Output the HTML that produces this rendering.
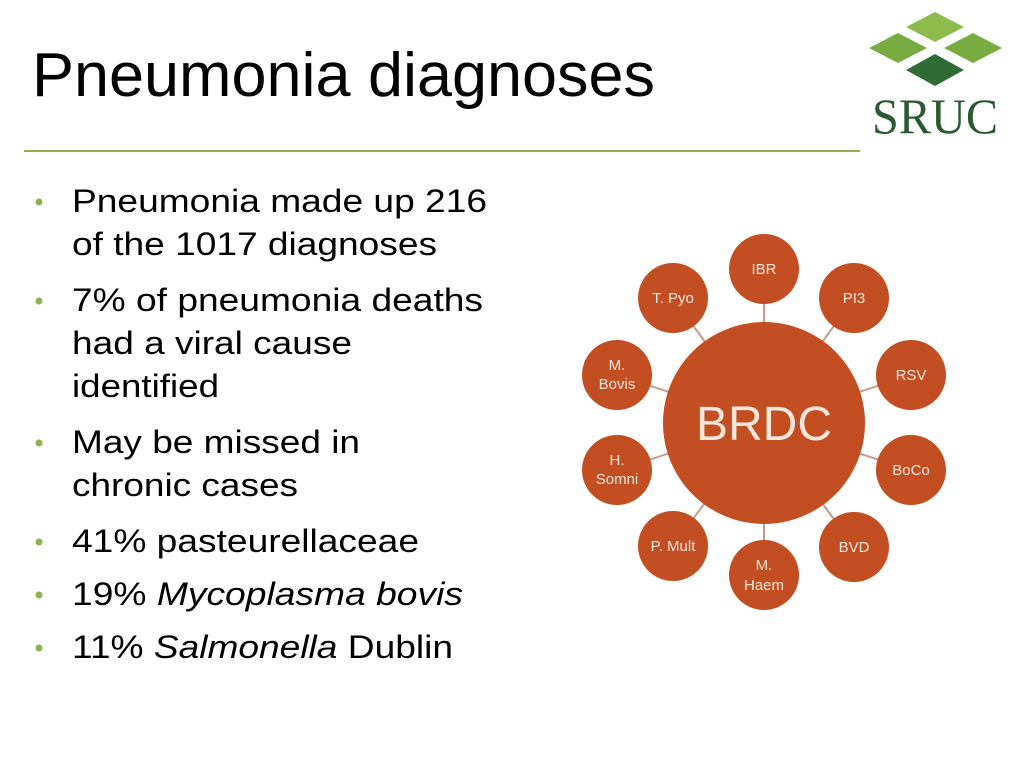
<!DOCTYPE html>
<html><head><meta charset="utf-8"><style>
html,body{margin:0;padding:0;background:#fff;}
svg{display:block;}
</style></head><body>
<svg width="1024" height="760" viewBox="0 0 1024 760" xmlns="http://www.w3.org/2000/svg">
<rect width="1024" height="760" fill="#fff"/>
<text x="32" y="96" font-family="Liberation Sans, sans-serif" font-size="62" fill="#000" textLength="623" lengthAdjust="spacingAndGlyphs">Pneumonia diagnoses</text>
<line x1="24" y1="151" x2="860" y2="151" stroke="#8db34e" stroke-width="2"/>
<!-- logo -->
<polygon points="935,12 964,27 935,42 906,27" fill="#8dbb4c"/>
<polygon points="898,33 927,48 898,63 869,48" fill="#78ac40"/>
<polygon points="973,33 1002,48 973,63 944,48" fill="#78ac40"/>
<polygon points="935,54 964,70 935,86 906,70" fill="#2f6b34"/>
<text x="935" y="133" text-anchor="middle" font-family="Liberation Serif, serif" font-size="50" fill="#2c5a30" textLength="126" lengthAdjust="spacingAndGlyphs">SRUC</text>
<!-- bullets -->
<g font-family="Liberation Sans, sans-serif" font-size="32" fill="#000" lengthAdjust="spacingAndGlyphs">
<g fill="#8db34e">
<circle cx="39" cy="202" r="3.5"/><circle cx="39" cy="301" r="3.5"/><circle cx="39" cy="443" r="3.5"/>
<circle cx="39" cy="542" r="3.5"/><circle cx="39" cy="595" r="3.5"/><circle cx="39" cy="648" r="3.5"/>
</g>
<text x="72" y="212" textLength="415" lengthAdjust="spacingAndGlyphs">Pneumonia made up 216</text>
<text x="72" y="255" textLength="365" lengthAdjust="spacingAndGlyphs">of the 1017 diagnoses</text>
<text x="72" y="311" textLength="411" lengthAdjust="spacingAndGlyphs">7% of pneumonia deaths</text>
<text x="72" y="354" textLength="280" lengthAdjust="spacingAndGlyphs">had a viral cause</text>
<text x="72" y="397" textLength="147" lengthAdjust="spacingAndGlyphs">identified</text>
<text x="72" y="453" textLength="288" lengthAdjust="spacingAndGlyphs">May be missed in</text>
<text x="72" y="496" textLength="226" lengthAdjust="spacingAndGlyphs">chronic cases</text>
<text x="72" y="552" textLength="347" lengthAdjust="spacingAndGlyphs">41% pasteurellaceae</text>
<text x="72" y="605" textLength="391" lengthAdjust="spacingAndGlyphs">19% <tspan font-style="italic">Mycoplasma bovis</tspan></text>
<text x="72" y="658" textLength="381" lengthAdjust="spacingAndGlyphs">11% <tspan font-style="italic">Salmonella</tspan> Dublin</text>
</g>
<!-- diagram -->
<g stroke="#c99a86" stroke-width="2">
<line x1="764" y1="423" x2="764" y2="269"/>
<line x1="764" y1="423" x2="854" y2="298"/>
<line x1="764" y1="423" x2="911" y2="375"/>
<line x1="764" y1="423" x2="911" y2="470"/>
<line x1="764" y1="423" x2="854" y2="547"/>
<line x1="764" y1="423" x2="764" y2="575"/>
<line x1="764" y1="423" x2="673" y2="546"/>
<line x1="764" y1="423" x2="617" y2="470"/>
<line x1="764" y1="423" x2="617" y2="375"/>
<line x1="764" y1="423" x2="673" y2="298"/>
</g>
<g fill="#c24e22">
<circle cx="764" cy="423" r="101"/>
<circle cx="764" cy="269" r="35"/><circle cx="854" cy="298" r="35"/>
<circle cx="911" cy="375" r="35"/><circle cx="911" cy="470" r="35"/>
<circle cx="854" cy="547" r="35"/><circle cx="764" cy="575" r="35"/>
<circle cx="673" cy="546" r="35"/><circle cx="617" cy="470" r="35"/>
<circle cx="617" cy="375" r="35"/><circle cx="673" cy="298" r="35"/>
</g>
<g font-family="Liberation Sans, sans-serif" fill="#f6e6dc" text-anchor="middle" font-size="15">
<text x="764" y="440" font-size="48">BRDC</text>
<text x="764" y="274">IBR</text>
<text x="854" y="303">PI3</text>
<text x="911" y="380">RSV</text>
<text x="911" y="475">BoCo</text>
<text x="854" y="552">BVD</text>
<text x="764" y="570">M.</text><text x="764" y="590">Haem</text>
<text x="673" y="551">P. Mult</text>
<text x="617" y="465">H.</text><text x="617" y="484">Somni</text>
<text x="617" y="370">M.</text><text x="617" y="389">Bovis</text>
<text x="673" y="303">T. Pyo</text>
</g>
</svg>
</body></html>
